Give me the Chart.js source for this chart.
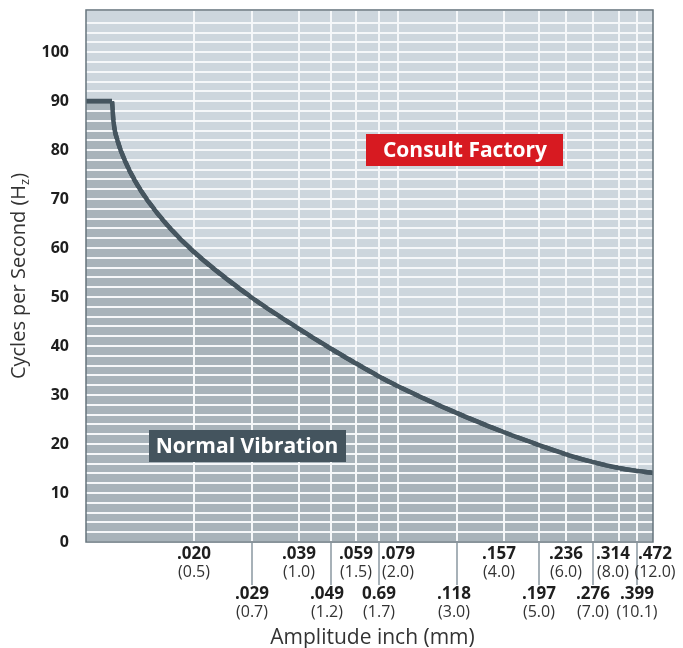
<!DOCTYPE html>
<html>
<head>
<meta charset="utf-8">
<script src="https://cdn.jsdelivr.net/npm/chart.js@4.4.1/dist/chart.umd.min.js"></script>
<style>
  body { margin: 0; background: #fff; }
  #wrap { width: 683px; height: 648px; }
</style>
</head>
<body>
<div id="wrap"><canvas id="vib"></canvas></div>
<script>
// amplitude (mm) vs. cycles per second
const amplitudeMm = [0.2, 0.2722, 0.2762, 0.2882, 0.3083, 0.3361, 0.3722, 0.4278, 0.5, 0.7, 1.0, 1.2, 1.5, 1.7, 2.0, 3.0, 4.0, 5.0, 6.0, 7.0, 8.0, 10.1, 12.0];
const cyclesHz    = [90, 90, 85.9, 81.8, 77.8, 73.7, 69.6, 64.5, 59.2, 49.85, 43.5, 39.45, 36.45, 33.8, 31.8, 26.3, 22.4, 19.8, 17.9, 16.3, 15.1, 14.5, 14.1];
const plateauEnd = 1; // index where the flat 90 Hz limit turns into the curve

// x axis ticks
const mmTicks    = [0.5, 0.7, 1.0, 1.2, 1.5, 1.7, 2.0, 3.0, 4.0, 5.0, 6.0, 7.0, 8.0, 10.1, 12.0];
const inchLabels = ['.020', '.029', '.039', '.049', '.059', '0.69', '.079', '.118', '.157', '.197', '.236', '.276', '.314', '.399', '.472'];
const mmLabels   = ['(0.5)', '(0.7)', '(1.0)', '(1.2)', '(1.5)', '(1.7)', '(2.0)', '(3.0)', '(4.0)', '(5.0)', '(6.0)', '(7.0)', '(8.0)', '(10.1)', '(12.0)'];

// y axis
const hzMin = 0, hzMax = 108.6, hzGridStep = 2, hzLabelStep = 10;

// the amplitude axis is not linear: where each stop sits along the axis (0..1)
const axisStopsMm  = [0.2, 0.5, 0.7, 1.0, 1.2, 1.5, 1.7, 2.0, 3.0, 4.0, 5.0, 6.0, 7.0, 8.0, 10.1, 12.0];
const axisStopsPos = [0, 0.1905, 0.2928, 0.3757, 0.4321, 0.4762, 0.5168, 0.5503, 0.6543, 0.7372, 0.7989, 0.8466, 0.8942, 0.94, 0.9718, 1];
// small horizontal shifts (px) of some tick labels, as in the original artwork
const labelNudge = { 3: -4, 7: -3, 8: -5, 12: -6, 14: 2 };

const FONT = '"Open Sans", "Noto Sans", sans-serif';

function mmToPos(v) {
  const s = axisStopsMm, p = axisStopsPos;
  if (v <= s[0]) return p[0];
  for (let i = 1; i < s.length; i++) {
    if (v <= s[i]) return p[i - 1] + (p[i] - p[i - 1]) * (v - s[i - 1]) / (s[i] - s[i - 1]);
  }
  return p[p.length - 1];
}
function posToMm(d) {
  const s = axisStopsMm, p = axisStopsPos;
  for (let i = 1; i < p.length; i++) {
    if (d <= p[i]) return s[i - 1] + (s[i] - s[i - 1]) * (d - p[i - 1]) / (p[i] - p[i - 1]);
  }
  return s[s.length - 1];
}

class PiecewiseScale extends Chart.LinearScale {
  getPixelForValue(value) {
    if (value === null || value === undefined) return NaN;
    return this.getPixelForDecimal(mmToPos(value));
  }
  getValueForPixel(pixel) {
    return posToMm(this.getDecimalForPixel(pixel));
  }
}
PiecewiseScale.id = 'piecewise';
PiecewiseScale.defaults = Chart.LinearScale.defaults;
Chart.register(PiecewiseScale);

function labelBox(ctx, text, cx, cy, bg) {
  const w = 197, h = 32;
  ctx.fillStyle = bg;
  ctx.fillRect(Math.round(cx - w / 2), Math.round(cy - h / 2), w, h);
  ctx.font = 'bold 21px ' + FONT;
  ctx.fillStyle = '#fff';
  ctx.textAlign = 'center';
  ctx.textBaseline = 'middle';
  ctx.fillText(text, cx, cy + 1);
}

const overlay = {
  id: 'overlay',
  beforeDraw(chart) {
    const { ctx, chartArea: a } = chart;
    ctx.save();
    ctx.fillStyle = '#cdd6dd';
    ctx.fillRect(a.left, a.top, a.right - a.left, a.bottom - a.top);
    ctx.restore();
  },
  afterDraw(chart) {
    const { ctx, chartArea: a, scales: { x, y } } = chart;

    // curve again, above the white grid
    ctx.save();
    ctx.beginPath();
    ctx.rect(a.left, a.top, a.right - a.left, a.bottom - a.top);
    ctx.clip();
    chart.data.datasets.forEach((ds, i) => chart.getDatasetMeta(i).dataset.draw(ctx, a));
    ctx.restore();

    ctx.save();
    // frame
    ctx.strokeStyle = '#66747c';
    ctx.lineWidth = 1.5;
    ctx.strokeRect(a.left, a.top, a.right - a.left, a.bottom - a.top);

    // two rows of amplitude labels
    ctx.textAlign = 'center';
    ctx.textBaseline = 'middle';
    mmTicks.forEach((v, i) => {
      const px = x.getPixelForValue(v);
      const row2 = i % 2 === 1;
      if (row2) {
        ctx.strokeStyle = '#a7b1b8';
        ctx.lineWidth = 2;
        ctx.beginPath();
        ctx.moveTo(px, a.bottom + 1);
        ctx.lineTo(px, a.bottom + 43);
        ctx.stroke();
      }
      const top = a.bottom + (row2 ? 52 : 12);
      const lx = px + (labelNudge[i] || 0);
      ctx.fillStyle = '#1e1e1e';
      ctx.font = 'bold 17px ' + FONT;
      ctx.fillText(inchLabels[i], lx, top);
      ctx.fillStyle = '#333';
      ctx.font = '16px ' + FONT;
      ctx.fillText(mmLabels[i], lx, top + 18);
    });

    // axis titles
    ctx.fillStyle = '#333';
    ctx.font = '21px ' + FONT;
    ctx.fillText('Amplitude inch (mm)', (a.left + a.right) / 2 + 3, chart.height - 10);

    ctx.translate(19, (a.top + a.bottom) / 2);
    ctx.rotate(-Math.PI / 2);
    const main = 'Cycles per Second (H', sub = 'z', tail = ')';
    ctx.font = '20px ' + FONT;
    const wMain = ctx.measureText(main).width, wTail = ctx.measureText(tail).width;
    ctx.font = '13px ' + FONT;
    const wSub = ctx.measureText(sub).width;
    let sx = -(wMain + wSub + wTail) / 2;
    ctx.textAlign = 'left';
    ctx.font = '20px ' + FONT;
    ctx.fillText(main, sx, 0);
    sx += wMain;
    ctx.font = '13px ' + FONT;
    ctx.fillText(sub, sx, 6);
    sx += wSub;
    ctx.font = '20px ' + FONT;
    ctx.fillText(tail, sx, 0);
    ctx.restore();

    // region labels
    ctx.save();
    labelBox(ctx, 'Consult Factory', x.getPixelForValue(3.17), y.getPixelForValue(80), '#d71a21');
    labelBox(ctx, 'Normal Vibration', x.getPixelForValue(0.683), y.getPixelForValue(19.6), '#44545e');
    ctx.restore();
  }
};

const points = amplitudeMm.map((m, i) => ({ x: m, y: cyclesHz[i] }));
const lineStyle = {
  borderColor: '#45555f',
  borderWidth: 4.5,
  backgroundColor: '#a8b3ba',
  fill: 'origin',
  pointRadius: 0
};

new Chart(document.getElementById('vib'), {
  type: 'line',
  data: {
    datasets: [
      { ...lineStyle, data: points.slice(0, plateauEnd + 1), tension: 0 },
      { ...lineStyle, data: points.slice(plateauEnd), cubicInterpolationMode: 'monotone' }
    ]
  },
  options: {
    responsive: true,
    maintainAspectRatio: false,
    animation: false,
    events: [],
    layout: { padding: { top: 10, right: 30, left: 0, bottom: 0 } },
    plugins: { legend: { display: false }, tooltip: { enabled: false } },
    scales: {
      x: {
        type: 'piecewise',
        min: axisStopsMm[0],
        max: axisStopsMm[axisStopsMm.length - 1],
        afterBuildTicks: s => { s.ticks = mmTicks.slice(0, -1).map(v => ({ value: v })); },
        afterFit: s => { s.height = 106; s.paddingLeft = 0; s.paddingRight = 0; },
        ticks: { display: false },
        grid: { color: '#f5f7f9', lineWidth: 2, drawTicks: false, z: 1 },
        border: { display: false }
      },
      y: {
        min: hzMin,
        max: hzMax,
        afterFit: s => { s.width = 86; s.paddingTop = 0; s.paddingBottom = 0; },
        ticks: {
          stepSize: hzGridStep,
          autoSkip: false,
          padding: 17,
          color: '#1e1e1e',
          font: { family: FONT, size: 16, weight: 'bold' },
          callback: v => (Math.abs(v % hzLabelStep) < 1e-6 ? String(v) : '')
        },
        grid: { color: '#f5f7f9', lineWidth: 2, drawTicks: false, z: 1 },
        border: { display: false }
      }
    }
  },
  plugins: [overlay]
});
</script>
</body>
</html>
